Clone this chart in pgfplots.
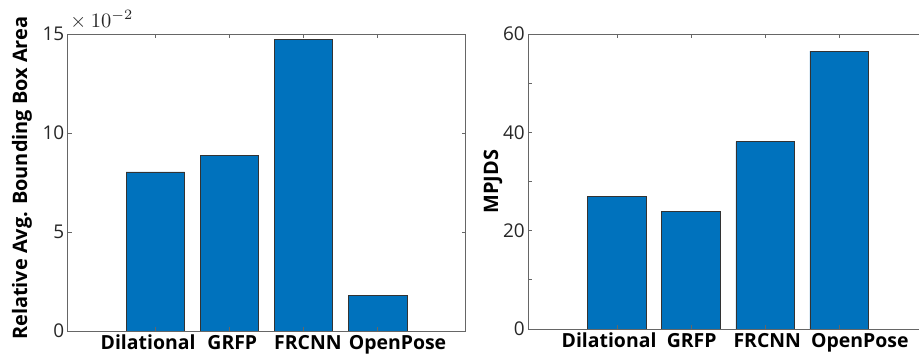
\documentclass[border=0pt]{standalone}
\usepackage{graphicx}
\usepackage{fontspec}
\setmainfont{Open Sans}
\usepackage{pgfplots}
\pgfplotsset{compat=1.18}
\definecolor{barblue}{RGB}{0,114,189}
\definecolor{axgray}{RGB}{38,38,38}

\pgfplotsset{
  methodbars/.style={
    scale only axis,
    ybar, bar width=0.79, axis on top,
    ymin=0, xmin=-0.182, xmax=5.19,
    tick align=inside, major tick length=4bp,
    axis line style={draw=black!60, line width=0.7bp},
    every tick/.style={draw=black!60, line width=0.7bp},
    xtick={1,2,3,4}, xticklabels={},
    extra x tick style={major tick length=0pt},
    extra x tick labels={Dilational,GRFP,FRCNN,OpenPose},
    xticklabel style={font=\fontsize{19.5}{19.5}\selectfont\bfseries, text=black, inner sep=0pt, anchor=north, yshift=-4bp},
    yticklabel style={font=\fontsize{19}{19}\selectfont, text=axgray},
    /pgf/number format/assume math mode=true,
    ylabel style={font=\fontsize{20}{20}\selectfont\bfseries, anchor=center, text=black},
  },
  barstyle/.style={fill=barblue, draw=black!80, line width=0.5bp},
}

\begin{document}
\begin{tikzpicture}
\useasboundingbox (0,0) rectangle (919bp,354bp);
\clip (0,0) rectangle (919bp,354bp);

% relative average bounding box area (in units of 10^-2)
\begin{axis}[methodbars, name=area,
  at={(67.7bp,23bp)}, anchor=south west,
  width=398bp, height=296.7bp,
  ymax=15, ytick={0,5,10,15},
  extra x ticks={0.903,2.04,3.06,4.27},
  ylabel={Relative Avg. Bounding Box Area},
  ylabel style={at={(axis description cs:-0.115,0.515)}},
]
\addplot[barstyle] coordinates {(1,8.05) (2,8.88) (3,14.75) (4,1.79)};
\end{axis}
% common scale factor of the left axis
\node[anchor=base west, inner sep=0pt, text=axgray] at ([xshift=-2bp, yshift=7bp]area.north west)
  {\scalebox{2.05}{${}\times 10^{-2}$}};

% mean per-joint detection score
\begin{axis}[methodbars,
  at={(528.3bp,25bp)}, anchor=south west,
  width=399bp, height=295bp,
  ymax=60, ytick={0,10,...,60}, yticklabels={0,,20,,40,,60},
  extra x ticks={0.895,2.01,3.03,4.28},
  xmin=-0.195,
  ylabel={MPJDS},
  ylabel style={at={(axis description cs:-0.0885,0.5)}},
]
\addplot[barstyle] coordinates {(1,26.9) (2,24.0) (3,38.1) (4,56.5)};
\end{axis}
\end{tikzpicture}
\end{document}
